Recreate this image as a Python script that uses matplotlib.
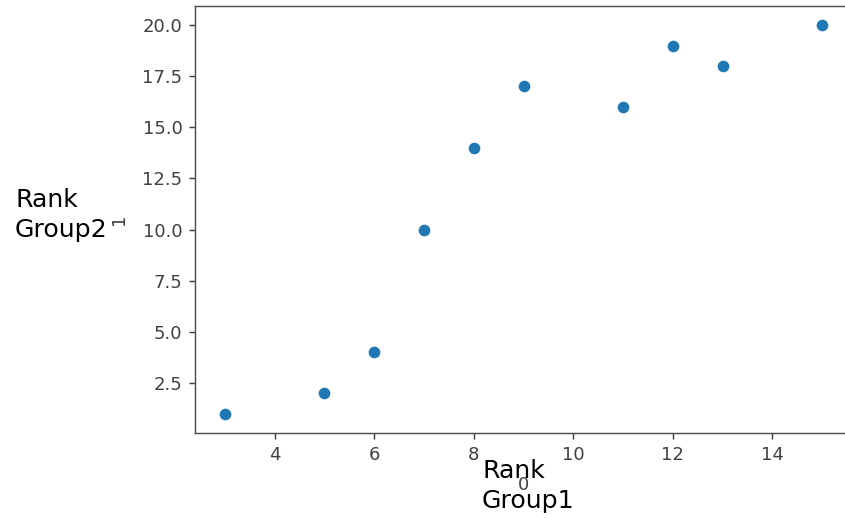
import matplotlib
matplotlib.use('Agg')
import matplotlib.pyplot as plt

# Ranks of the same items in two groups
rank_group1 = [3, 5, 6, 7, 8, 9, 11, 12, 13, 15]
rank_group2 = [1, 2, 4, 10, 14, 17, 16, 19, 18, 20]

fig = plt.figure(figsize=(845 / 130, 518 / 130), dpi=130)
ax = fig.add_axes([0.2308, 0.164, 0.7775, 0.825])

ax.scatter(rank_group1, rank_group2, s=52, color='#1f77b4',
           edgecolor='white', linewidth=0.75, zorder=3)

ax.set_xlabel('0', color='0.25', labelpad=7)
ax.set_ylabel('1', color='0.25', labelpad=8)
ax.tick_params(colors='0.25', labelsize=10)
for spine in ax.spines.values():
    spine.set_color('0.3')

fig.text(15 / 845, 1 - 215 / 518, 'Rank\nGroup2', fontsize=14,
         va='center', ha='left', linespacing=1.3)
fig.text(482 / 845, 1 - 486 / 518, 'Rank\nGroup1', fontsize=14,
         va='center', ha='left', linespacing=1.3)

fig.savefig('out.png', dpi=130)
